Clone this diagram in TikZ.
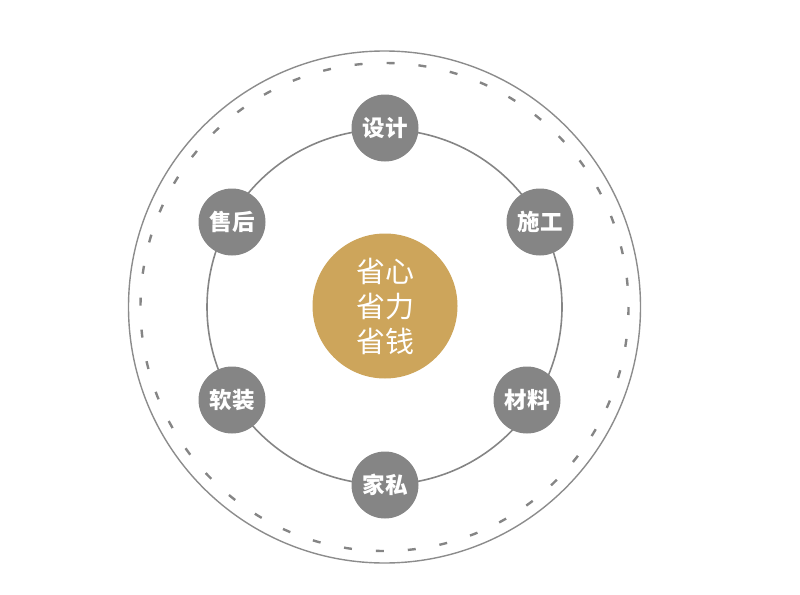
\documentclass[tikz,border=0pt]{standalone}
\usepackage{fontspec}
\newfontfamily\cjk{Noto Sans CJK SC}
\definecolor{ringgray}{HTML}{8C8C8C}
\definecolor{nodegray}{HTML}{858585}
\definecolor{gold}{HTML}{CDA55B}
\begin{document}
\begin{tikzpicture}[x=1pt, y=-1pt,
  ring/.style={draw=ringgray, line width=1.4pt},
  item/.style={circle, fill=nodegray, minimum size=67pt, inner sep=0pt, text=white, font=\cjk\bfseries\fontsize{22.5}{22.5}\selectfont},
  hub/.style={circle, fill=gold, minimum size=145pt, inner sep=0pt, text=white, align=center, font=\cjk\fontsize{29}{35}\selectfont}]
    \useasboundingbox (0,0) rectangle (800,594);
    % rings
    \draw[ring] (384.5,307) circle (256);
    \draw[ring, draw=nodegray, line width=2.4pt, dash pattern=on 8pt off 24pt] (384.5,307) circle (244);
    \draw[ring, draw=nodegray, line width=1.6pt] (384.5,307) circle (177.5);
    % centre
    \node[hub] (hub) at (385,306) {省心\\省力\\省钱};
    % items
    \node[item] (sheji) at (385,128) {设计};
    \node[item] (shigong) at (540,222) {施工};
    \node[item] (cailiao) at (527,400) {材料};
    \node[item] (jiasi) at (385,485) {家私};
    \node[item] (ruanzhuang) at (232,400) {软装};
    \node[item] (shouhou) at (232,222) {售后};
\end{tikzpicture}
\end{document}
